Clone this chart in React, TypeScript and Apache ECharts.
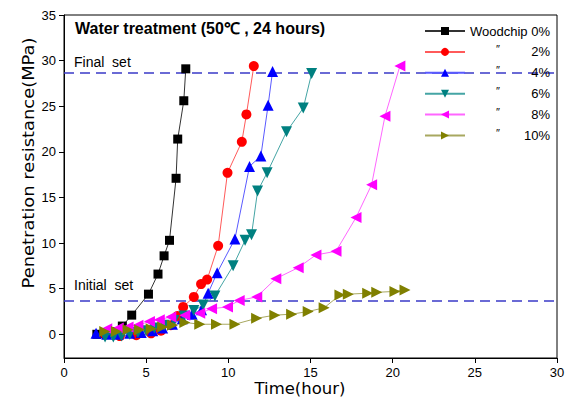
import React, { useEffect, useRef } from "react";
import * as echarts from "echarts";

const seriesNames = ["Woodchip 0%", "2%", "4%", "6%", "8%", "10%"];

const wc0: number[][] = [
  [2.0, 0], [2.5, 0.1], [3.0, 0.3], [3.55, 0.9], [4.12, 2.1], [5.14, 4.4], [5.72, 6.6],
  [6.09, 8.6], [6.42, 10.3], [6.82, 17.1], [6.92, 21.4], [7.29, 25.6], [7.41, 29.1],
];
const wc2: number[][] = [
  [2.5, 0], [3.4, -0.2], [4.4, -0.1], [5.3, 0.1], [5.9, 0.4], [6.5, 1.0], [6.9, 2.0],
  [7.25, 3.0], [7.9, 4.1], [8.34, 5.5], [8.71, 6.0], [9.38, 9.7], [9.95, 17.7],
  [10.82, 21.1], [11.1, 24.1], [11.55, 29.4],
];
const wc4: number[][] = [
  [1.95, 0.1], [2.6, 0], [3.3, 0], [4.0, 0.1], [4.7, 0.2], [5.4, 0.4], [6.0, 0.7],
  [6.6, 1.1], [7.2, 1.7], [7.8, 2.2], [8.37, 2.7], [8.77, 4.5], [9.32, 6.75],
  [10.4, 10.45], [11.29, 18.4], [11.98, 19.55], [12.42, 25.1], [12.69, 28.8],
];
const wc6: number[][] = [
  [2.5, -0.3], [3.0, -0.3], [3.5, -0.2], [4.0, 0], [4.5, 0.2], [5.0, 0.4], [5.5, 0.7],
  [6.1, 1.0], [6.7, 1.5], [7.3, 2.0], [7.9, 2.6], [8.47, 3.2], [9.18, 4.2],
  [10.29, 7.5], [11.02, 10.3], [11.41, 10.9], [11.78, 15.7], [12.36, 17.7],
  [13.54, 22.2], [14.56, 24.8], [15.07, 28.6],
];
const wc8: number[][] = [
  [2.6, 0.6], [3.3, 0.7], [3.9, 0.8], [4.5, 1.0], [5.2, 1.4], [5.8, 1.6], [6.5, 1.9],
  [7.35, 2.1], [8.26, 2.3], [8.98, 2.8], [9.95, 3.0], [10.66, 3.7], [11.73, 4.1],
  [12.89, 6.1], [14.25, 7.3], [15.33, 8.7], [16.55, 9.1], [17.77, 12.8],
  [18.72, 16.4], [19.53, 23.9], [20.44, 29.4],
];
const wc10: number[][] = [
  [2.48, 0.3], [3.19, 0.3], [3.9, 0.5], [4.6, 0.5], [5.3, 0.6], [6.0, 0.8], [6.6, 1.0],
  [7.35, 1.3], [8.26, 1.1], [9.28, 1.1], [10.4, 1.1], [11.72, 1.75], [12.83, 2.1],
  [13.85, 2.2], [14.86, 2.5], [15.83, 2.9], [16.79, 4.3], [17.3, 4.4], [18.48, 4.5],
  [19.03, 4.6], [20.14, 4.7], [20.75, 4.86],
];
const seriesData = [wc0, wc2, wc4, wc6, wc8, wc10];

const finalSet = 28.7;
const initialSet = 3.7;

const xTicks = [0, 5, 10, 15, 20, 25, 30];
const yTicks = [0, 5, 10, 15, 20, 25, 30, 35];

const FONT = 'Arial, "Liberation Sans", sans-serif';
const WIDE = '"DejaVu Sans", Arial, sans-serif';

export default function App() {
  const ref = useRef<HTMLDivElement>(null);
  useEffect(() => {
    if (!ref.current) return;
    const chart = echarts.init(ref.current, null, { renderer: "svg" });
    const markerColors = ["#000000", "#ff0000", "#0000ff", "#008080", "#ff00ff", "#808000"];
    const lineColors = ["#333333", "#ff5a5a", "#5a5aff", "#45a5a5", "#ff66ff", "#a8a860"];
    const symbols = ["rect", "circle", "triangle", "triangle", "triangle", "triangle"];
    const rotates = [0, 0, 0, 180, 90, -90];
    const sizes = [9, 10, 11, 11, 11, 11];

    const series: any[] = seriesNames.map((name, i) => ({
      name,
      type: "line",
      data: seriesData[i],
      symbol: symbols[i],
      symbolRotate: rotates[i],
      symbolSize: sizes[i],
      showAllSymbol: true,
      itemStyle: { color: markerColors[i] },
      lineStyle: { color: lineColors[i], width: 1 },
      clip: false,
      z: 3,
    }));
    series[0].markLine = {
      silent: true,
      symbol: ["none", "none"],
      label: { show: false },
      lineStyle: { color: "#3a3ac8", width: 1.5, type: [10, 6] },
      data: [{ yAxis: finalSet }, { yAxis: initialSet }],
      z: 1,
    };

    chart.setOption({
      animation: false,
      textStyle: { fontFamily: FONT },
      grid: {
        left: 64, top: 15, right: 18, bottom: 40,
        outerBoundsMode: "none",
        containLabel: false,
        show: true, borderColor: "#000", borderWidth: 1, backgroundColor: "transparent",
      },
      legend: {
        orient: "vertical",
        left: 419,
        top: 18,
        itemWidth: 40,
        itemHeight: 10,
        itemGap: 4.9,
        data: seriesNames,
        textStyle: {
          fontSize: 13, color: "#000", fontFamily: FONT, lineHeight: 16,
          rich: {
            d: { width: 30, align: "right", fontSize: 11, lineHeight: 16, verticalAlign: "top", color: "#000" },
            p: { width: 50, align: "right", fontSize: 13, lineHeight: 16, color: "#000" },
          },
        },
        formatter: (name: string) => (name === seriesNames[0] ? name : `{d|″}{p|${name}}`),
      },
      graphic: [
        {
          type: "text", left: 75, top: 20,
          style: { text: "Water treatment (50℃ , 24 hours)", font: `bold 16px ${FONT}`, fill: "#000" },
        },
        {
          type: "text", left: 74, top: 55,
          style: { text: "Final  set", font: `14px ${FONT}`, fill: "#000" },
        },
        {
          type: "text", left: 74, top: 278,
          style: { text: "Initial  set", font: `14px ${FONT}`, fill: "#000" },
        },
        {
          type: "text", x: 300, y: 389, scaleX: 1.1,
          style: { text: "Time(hour)", font: `15px ${WIDE}`, fill: "#000", align: "center", verticalAlign: "middle" },
        },
        {
          type: "text", x: 28, y: 163, rotation: Math.PI / 2, scaleX: 1.12,
          style: { text: "Penetration resistance(MPa)", font: `16px ${WIDE}`, fill: "#000", align: "center", verticalAlign: "middle" },
        },
      ],
      xAxis: {
        type: "value",
        min: 0, max: 30, interval: 5,
        axisLine: { onZero: false, lineStyle: { color: "#000", width: 1 } },
        axisTick: { show: true, inside: false, length: 5, lineStyle: { color: "#000" }, customValues: xTicks },
        axisLabel: { fontSize: 13, color: "#000", margin: 8, customValues: xTicks },
        splitLine: { show: false },
      },
      yAxis: {
        type: "value",
        min: -2.6, max: 35,
        axisLine: { show: true, onZero: false, lineStyle: { color: "#000", width: 1 } },
        axisTick: { show: true, inside: false, length: 5, lineStyle: { color: "#000" }, customValues: yTicks },
        axisLabel: { fontSize: 13, color: "#000", margin: 8, customValues: yTicks },
        splitLine: { show: false },
      },
      series,
    });
    return () => chart.dispose();
  }, []);
  return (
    <div style={{ position: "absolute", left: 0, top: 0, width: 575, height: 398, overflow: "hidden" }}>
      <div ref={ref} style={{ width: 575, height: 398 }} />
    </div>
  );
}
